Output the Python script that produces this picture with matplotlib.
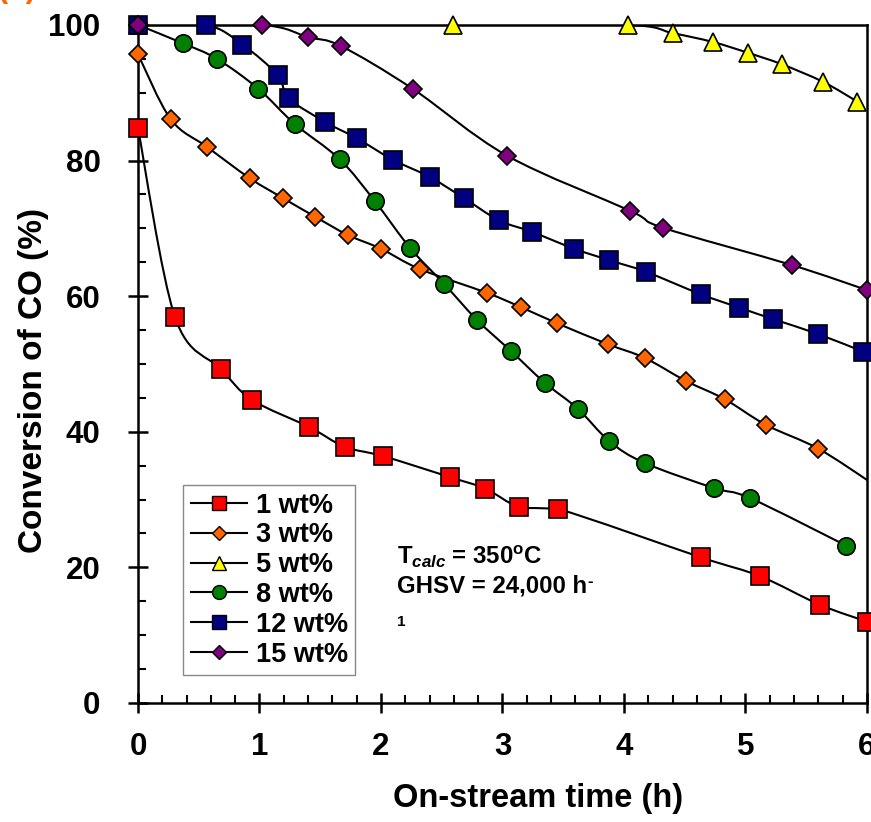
import matplotlib
matplotlib.use('Agg')
import matplotlib.pyplot as plt
from matplotlib.path import Path
from matplotlib.patches import PathPatch
from matplotlib.lines import Line2D
from matplotlib.ticker import MultipleLocator

plt.rcParams['font.family'] = ['Liberation Sans', 'DejaVu Sans']
plt.rcParams['font.weight'] = 'bold'
plt.rcParams['mathtext.fontset'] = 'custom'
plt.rcParams['mathtext.rm'] = 'Liberation Sans:bold'
plt.rcParams['mathtext.it'] = 'Liberation Sans:italic:bold'

# on-stream time (h) and CO conversion (%) for each loading
t_1 = [0, 0.305, 0.68, 0.94, 1.41, 1.70, 2.02, 2.57, 2.86, 3.14, 3.46, 4.63, 5.12, 5.61, 6.0]
co_1 = [84.8, 56.9, 49.3, 44.7, 40.7, 37.8, 36.4, 33.3, 31.6, 28.9, 28.6, 21.5, 18.7, 14.5, 12.0]

t_3 = [0, 0.27, 0.57, 0.92, 1.19, 1.46, 1.73, 2.0, 2.32, 2.87, 3.15, 3.45, 3.87, 4.17, 4.51, 4.83, 5.17, 5.6, 6.05]
co_3 = [95.7, 86.1, 82.0, 77.4, 74.5, 71.7, 69.0, 67.0, 64.0, 60.5, 58.4, 56.0, 52.9, 50.9, 47.5, 44.8, 41.0, 37.5, 32.3]

t_5 = [0, 2.59, 4.03, 4.40, 4.73, 5.02, 5.30, 5.64, 5.92]
co_5 = [100, 100, 100, 98.8, 97.5, 95.9, 94.2, 91.6, 88.7]

t_8 = [0, 0.37, 0.65, 0.99, 1.29, 1.66, 1.95, 2.24, 2.52, 2.79, 3.07, 3.35, 3.62, 3.88, 4.17, 4.74, 5.04, 5.83]
co_8 = [100, 97.3, 95.0, 90.6, 85.4, 80.2, 74.0, 67.1, 61.8, 56.5, 51.9, 47.2, 43.4, 38.6, 35.4, 31.7, 30.2, 23.2]

t_12 = [0, 0.56, 0.86, 1.15, 1.24, 1.54, 1.80, 2.10, 2.40, 2.68, 2.97, 3.24, 3.59, 3.88, 4.18, 4.63, 4.95, 5.23, 5.60, 5.97]
co_12 = [100, 100, 97.1, 92.6, 89.2, 85.7, 83.3, 80.1, 77.6, 74.5, 71.2, 69.5, 67.0, 65.3, 63.6, 60.3, 58.3, 56.6, 54.4, 51.8]

t_15 = [0, 1.02, 1.40, 1.67, 2.26, 3.04, 4.05, 4.32, 5.38, 6.0]
co_15 = [100, 100, 98.2, 96.9, 90.6, 80.7, 72.6, 70.1, 64.6, 60.9]

labels = ['1 wt%', '3 wt%', '5 wt%', '8 wt%', '12 wt%', '15 wt%']
series = [(t_1, co_1), (t_3, co_3), (t_5, co_5), (t_8, co_8), (t_12, co_12), (t_15, co_15)]
colors = ['#FF0000', '#FF6600', '#FFFF00', '#008000', '#000080', '#800080']
markers = ['s', 'D', '^', 'o', 's', 'D']
msizes = [12.5, 8.8, 12.5, 12.5, 12.5, 8.8]


def smooth_path(x, y):
    # smoothed line: cubic bezier through every point, control points
    # kept inside each segment's y range so flat runs don't bulge
    n = len(x)
    verts = [(x[0], y[0])]
    codes = [Path.MOVETO]
    for i in range(n - 1):
        x0, y0 = (x[i - 1], y[i - 1]) if i > 0 else (x[i], y[i])
        x3, y3 = (x[i + 2], y[i + 2]) if i + 2 < n else (x[i + 1], y[i + 1])
        lo, hi = min(y[i], y[i + 1]), max(y[i], y[i + 1])
        c1y = min(max(y[i] + (y[i + 1] - y0) / 6, lo), hi)
        c2y = min(max(y[i + 1] - (y3 - y[i]) / 6, lo), hi)
        c1 = (x[i] + (x[i + 1] - x0) / 6, c1y)
        c2 = (x[i + 1] - (x3 - x[i]) / 6, c2y)
        verts += [c1, c2, (x[i + 1], y[i + 1])]
        codes += [Path.CURVE4] * 3
    return Path(verts, codes)


fig = plt.figure(figsize=(8.71, 8.22), dpi=100)
ax = fig.add_axes([0.1584, 0.1448, 0.8370, 0.8248])

for k, (t, co) in enumerate(series):
    ax.add_patch(PathPatch(smooth_path(t, co), fill=False, edgecolor='black',
                           linewidth=1.5, zorder=2))
    pts = [(a, b) for a, b in zip(t, co) if a <= 6]
    ax.plot([p[0] for p in pts], [p[1] for p in pts], linestyle='none',
            marker=markers[k], markersize=msizes[k], markerfacecolor=colors[k],
            markeredgecolor='black', markeredgewidth=1.2, clip_on=False, zorder=3 + k)

ax.set_xlim(0, 6)
ax.set_ylim(0, 100)
ax.xaxis.set_major_locator(MultipleLocator(1))
ax.xaxis.set_minor_locator(MultipleLocator(0.2))
ax.yaxis.set_major_locator(MultipleLocator(20))
ax.yaxis.set_minor_locator(MultipleLocator(5))
ax.tick_params(which='major', direction='inout', length=14, width=1.8, labelsize=22.5)
ax.tick_params(axis='y', which='major', pad=20)
ax.tick_params(axis='x', which='major', pad=14)
ax.tick_params(which='minor', direction='in', length=6, width=1.5)
for s in ax.spines.values():
    s.set_linewidth(1.8)

ax.set_xlabel('On-stream time (h)', fontsize=23.5, fontweight='bold')
ax.xaxis.set_label_coords(0.549, -0.118)
ax.set_ylabel('Conversion of CO (%)', fontsize=24, fontweight='bold')
ax.yaxis.set_label_coords(-0.122, 0.476)

handles = [Line2D([], [], color='black', linewidth=1.5, marker=markers[k],
                  markersize=msizes[k] * 0.8, markerfacecolor=colors[k],
                  markeredgecolor='black', markeredgewidth=1.0)
           for k in range(len(labels))]
leg = ax.legend(handles, labels, loc='upper left', bbox_to_anchor=(0.0617, 0.3215),
                borderaxespad=0, fancybox=False, framealpha=1, edgecolor='#888888',
                prop={'size': 19.5, 'weight': 'bold'}, handlelength=2.1,
                handletextpad=0.3, labelspacing=0.14, borderpad=0.28)
leg.get_frame().set_linewidth(1.0)

ax.text(0.355, 0.205, r'T$_{\mathit{calc}}$ = 350$^{\mathrm{o}}$C', transform=ax.transAxes,
        fontsize=17.3, fontweight='bold', ha='left', va='baseline')
ghsv = ax.text(0.355, 0.163, 'GHSV = 24,000 h', transform=ax.transAxes,
               fontsize=17.3, fontweight='bold', ha='left', va='baseline')
ax.annotate('-', xy=(1.0, 1.0), xycoords=ghsv, fontsize=12, fontweight='bold',
            ha='left', va='top')
ax.text(0.355, 0.113, '1', transform=ax.transAxes,
        fontsize=11, fontweight='bold', ha='left', va='baseline')

fig.text(-0.003, 1.004, '(b)', color='#FF6600', fontsize=22, fontweight='bold',
         ha='left', va='baseline')

fig.savefig('out.png', dpi=100)
